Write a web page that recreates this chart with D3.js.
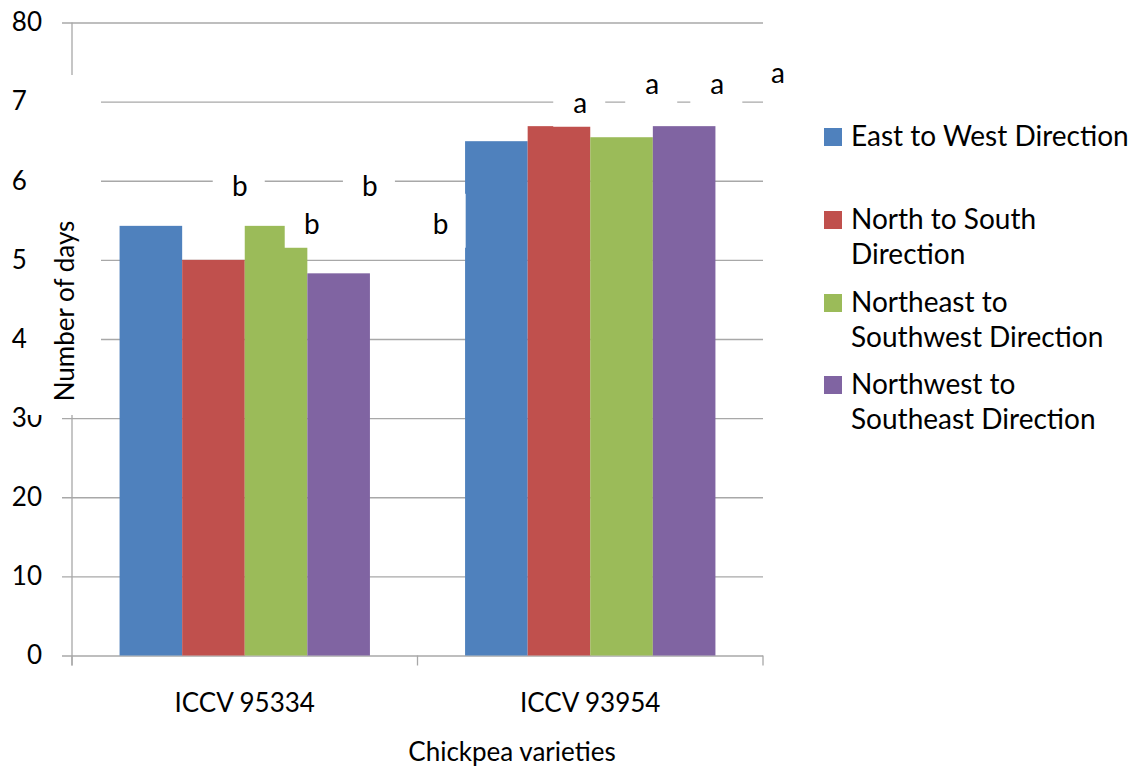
<!DOCTYPE html>
<html>
<head>
<meta charset="utf-8">
<script src="https://cdn.jsdelivr.net/npm/d3@7"></script>
<style>
  html, body { margin: 0; padding: 0; background: #fff; }
  svg { display: block; font-family: Lato, "Open Sans", sans-serif; }
</style>
</head>
<body>
<svg id="chart" width="1140" height="769"></svg>
<script>
// ---- data ----
const categories = ["ICCV 95334", "ICCV 93954"];
const series = ["East to West Direction", "North to South Direction",
                "Northeast to Southwest Direction", "Northwest to Southeast Direction"];
const legendLines = [["East to West Direction"], ["North to South", "Direction"],
                     ["Northeast to", "Southwest Direction"], ["Northwest to", "Southeast Direction"]];
const valuesICCV95334 = [54.3, 50.0, 54.3, 48.3];
const valuesICCV93954 = [65.0, 66.9, 65.5, 66.9];
const lettersICCV95334 = ["b", "b", "b", "b"];
const lettersICCV93954 = ["a", "a", "a", "a"];
// annotation letter baselines, in axis units
const letterLevelsICCV95334 = [58.1, 53.3, 58.1, 53.3];
const letterLevelsICCV93954 = [68.6, 71.0, 71.0, 72.3];
const yTicks = [0, 10, 20, 30, 40, 50, 60, 70, 80];
const colors = ["#4F81BD", "#C0504D", "#9BBB59", "#8064A2"];
const yTitle = "Number of days";
const xTitle = "Chickpea varieties";

// horizontal displacement of each letter from its bar centre, in bar widths
const letterShiftICCV95334 = [1.42, 1.57, 1.50, 1.63];
const letterShiftICCV93954 = [1.34, 1.49, 1.53, 1.50];

const table = categories.map((c, i) => ({
  cat: c,
  values: i === 0 ? valuesICCV95334 : valuesICCV93954,
  letters: i === 0 ? lettersICCV95334 : lettersICCV93954,
  levels: i === 0 ? letterLevelsICCV95334 : letterLevelsICCV93954,
  shifts: i === 0 ? letterShiftICCV95334 : letterShiftICCV93954
}));

// ---- layout ----
const svg = d3.select("#chart");
const pLeft = 72, pRight = 763, pTop = 22.5, pBottom = 655.5;
const y = d3.scaleLinear().domain([0, 80]).range([pBottom, pTop]);
const x0 = d3.scaleBand().domain(categories).range([pLeft, pRight]).paddingInner(0).paddingOuter(0);
const x1 = d3.scaleBand().domain(series).range([0, x0.bandwidth()]).paddingInner(0).paddingOuter(0.76);
const gridColor = "#a8a8a8";
const fontSize = 26;
const bigFont = 28;

// gridlines + y ticks
const yAxis = d3.axisLeft(y).tickValues(yTicks).tickSizeInner(-(pRight - pLeft)).tickSizeOuter(0).tickPadding(20);
const gy = svg.append("g").attr("transform", `translate(${pLeft},0)`).call(yAxis);
gy.select(".domain").remove();
gy.selectAll(".tick line").attr("stroke", gridColor).attr("stroke-width", 1.3).attr("x1", -10);
gy.selectAll(".tick text").attr("font-size", fontSize).attr("fill", "#000")
  .attr("font-family", "Lato, sans-serif").attr("x", -30);

// y axis line
svg.append("line").attr("x1", pLeft).attr("x2", pLeft).attr("y1", y(80)).attr("y2", pBottom + 10)
  .attr("stroke", gridColor).attr("stroke-width", 1.3);

// x axis ticks at band edges
const edges = categories.map(c => x0(c)).concat([pRight]);
svg.append("g").selectAll("line").data(edges).join("line")
  .attr("x1", d => d).attr("x2", d => d).attr("y1", pBottom).attr("y2", pBottom + 10)
  .attr("stroke", gridColor).attr("stroke-width", 1.3);

// bars
const groups = svg.append("g").selectAll("g").data(table).join("g")
  .attr("transform", d => `translate(${x0(d.cat)},0)`);
groups.selectAll("rect").data(d => d.values.map((v, i) => ({v, s: series[i], i}))).join("rect")
  .attr("x", d => x1(d.s)).attr("width", x1.bandwidth())
  .attr("y", d => y(d.v)).attr("height", d => pBottom - y(d.v))
  .attr("fill", d => colors[d.i]);

// y-title background box (hides part of the axis)
svg.append("rect").attr("x", 27).attr("y", 75).attr("width", 101 - 27).attr("height", 415 - 75)
  .attr("fill", "#fff");

svg.append("text").attr("transform", `translate(74,311) rotate(-90)`)
  .attr("text-anchor", "middle").attr("font-size", fontSize).text(yTitle);

// letter annotations with white boxes
const ann = [];
table.forEach(d => {
  d.letters.forEach((l, i) => {
    ann.push({ l, x: x0(d.cat) + x1(series[i]) + x1.bandwidth() * (0.5 + d.shifts[i]), yb: y(d.levels[i]) });
  });
});
const ag = svg.append("g");
ag.selectAll("rect").data(ann).join("rect")
  .attr("x", d => d.x - 27).attr("width", 52)
  .attr("y", d => d.yb - 40).attr("height", 54).attr("fill", "#fff");
ag.selectAll("text").data(ann).join("text")
  .attr("x", d => d.x).attr("y", d => d.yb).attr("text-anchor", "middle")
  .attr("font-size", bigFont).text(d => d.l);

// category labels
svg.append("g").selectAll("text").data(categories).join("text")
  .attr("x", d => x0(d) + x0.bandwidth() / 2).attr("y", 712).attr("text-anchor", "middle")
  .attr("font-size", fontSize).text(d => d);

// x title
svg.append("text").attr("x", 512).attr("y", 761).attr("text-anchor", "middle")
  .attr("font-size", fontSize).text(xTitle);

// legend
const legendMid = [137, 220, 303, 385];
const lg = svg.append("g");
legendLines.forEach((lines, i) => {
  lg.append("rect").attr("x", 824).attr("y", legendMid[i] - 9).attr("width", 18).attr("height", 18)
    .attr("fill", colors[i]);
  lines.forEach((t, j) => {
    lg.append("text").attr("x", 851).attr("y", legendMid[i] + 9 + j * 35)
      .attr("font-size", bigFont).text(t);
  });
});
</script>
</body>
</html>
